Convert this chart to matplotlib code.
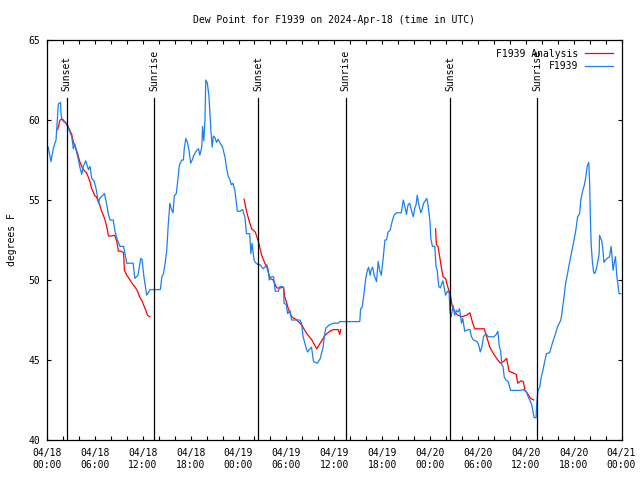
import matplotlib
matplotlib.use('Agg')
import matplotlib.pyplot as plt

# hours since 2024-04-18 00:00 UTC
obs_hours = [0.16, 0.5, 0.8, 1.13, 1.42, 1.7, 1.75, 1.85, 2.25, 2.67, 3.1, 3.3, 3.5, 3.7, 3.9,
             4.1, 4.35, 4.55, 4.85, 5.2, 5.4, 5.6, 5.9, 6.2, 6.45, 6.6, 6.8, 7.2, 7.5, 7.7,
             7.9, 8.3, 8.5, 8.75, 9.15, 9.6, 10.0, 10.8, 11.0, 11.4, 11.75, 11.9, 12.15, 12.5,
             12.9, 14.2, 14.4, 14.6, 14.8, 15.0, 15.2, 15.4, 15.6, 15.8, 15.95, 16.2, 16.35,
             16.6, 16.9, 17.1, 17.2, 17.4, 17.6, 17.8, 18.0, 18.2, 18.4, 18.75, 19.0, 19.15,
             19.4, 19.5, 19.65, 19.8, 19.9, 20.1, 20.3, 20.4, 20.55, 20.7, 20.85, 21.05, 21.25,
             21.45, 21.65, 22.0, 22.3, 22.5, 22.7, 22.9, 23.1, 23.3, 23.55, 23.85, 24.2, 24.5,
             24.8, 25.0, 25.4, 25.55, 25.7, 25.95, 26.1, 26.45, 26.7, 27.1, 27.55, 27.75, 27.85,
             28.1, 28.4, 28.6, 29.0, 29.2, 29.65, 29.7, 30.0, 30.15, 30.45, 30.65, 30.85, 31.7,
             31.9, 32.1, 32.45, 32.65, 32.95, 33.15, 33.4, 33.9, 34.25, 34.6, 34.75, 34.95, 35.4,
             35.9, 36.5, 36.7, 39.2, 39.3, 39.5, 39.7, 39.95, 40.15, 40.3, 40.5, 40.6, 40.8,
             41.0, 41.3, 41.5, 41.7, 41.9, 42.15, 42.35, 42.55, 42.75, 43.0, 43.25, 43.5, 43.8,
             44.4, 44.65, 44.9, 45.05, 45.25, 45.45, 45.65, 45.9, 46.1, 46.25, 46.4, 46.6, 46.85,
             47.0, 47.2, 47.6, 47.75, 48.0, 48.1, 48.3, 48.6, 48.75, 48.9, 49.1, 49.3, 49.6,
             49.75, 49.95, 50.2, 50.4, 50.5, 50.65, 50.9, 51.1, 51.3, 51.5, 51.7, 51.95, 52.1,
             52.35, 52.8, 53.0, 53.2, 53.45, 53.9, 54.1, 54.3, 54.5, 54.7, 55.0, 55.3, 56.0,
             56.3, 56.5, 56.7, 56.85, 57.0, 57.15, 57.3, 57.5, 57.8, 58.1, 59.3, 59.7, 60.1,
             60.3, 60.6, 60.8, 61.05, 61.3, 61.35, 61.45, 61.55, 61.75, 61.95, 62.15, 62.35,
             62.6, 63.0, 63.3, 63.7, 64.0, 64.4, 64.55, 64.8, 65.0, 65.2, 65.4, 65.6, 65.85,
             66.05, 66.3, 66.5, 66.75, 66.9, 67.15, 67.35, 67.5, 67.7, 67.9, 68.0, 68.1, 68.2,
             68.35, 68.5, 68.65, 68.9, 69.2, 69.25, 69.4, 69.5, 69.65, 69.8, 70.0, 70.2, 70.5,
             70.7, 70.8, 70.95, 71.15, 71.25, 71.4, 71.7, 71.9]
obs_dewpt = [58.3, 57.4, 58.25, 58.75, 61.0, 61.1, 60.4, 60.1, 59.9, 59.5, 58.95, 58.2, 58.5, 58.0, 57.6,
             57.1, 56.6, 57.1, 57.45, 56.9, 57.1, 56.35, 56.2, 55.6, 54.8, 55.1, 55.2, 55.4, 54.7, 54.1,
             53.75, 53.75, 53.1, 52.6, 52.1, 52.1, 51.05, 51.05, 50.1, 50.3, 51.35, 51.3, 50.2, 49.05,
             49.4, 49.4, 50.2, 50.4, 51.05, 51.8, 53.5, 54.8, 54.4, 54.2, 55.25, 55.4, 56.05,
             57.2, 57.5, 57.5, 58.2, 58.85, 58.6, 58.1, 57.3, 57.5, 57.8, 58.1, 58.2, 57.8,
             58.3, 59.6, 58.7, 60.0, 62.5, 62.3, 61.45, 60.6, 59.3, 58.3, 59.0, 58.9, 58.6,
             58.8, 58.6, 58.3, 57.7, 57.0, 56.5, 56.3, 55.95, 56.05, 55.6, 54.3, 54.3, 54.4,
             53.95, 52.9, 52.9, 51.65, 52.3, 51.25, 51.1, 50.95, 50.95, 50.7, 50.95, 50.6, 50.0,
             50.2, 50.2, 49.3, 49.3, 49.6, 49.55, 48.55, 48.45, 47.9, 48.1, 47.5, 47.5, 47.5,
             47.3, 46.45, 45.8, 45.5, 45.7, 45.8, 44.9, 44.8, 45.1, 45.8, 46.45, 47.0, 47.2,
             47.3, 47.3, 47.4, 47.4, 48.2, 48.3, 49.05, 50.1, 50.6, 50.8, 50.3, 50.6, 50.8,
             50.3, 49.9, 51.15, 50.6, 50.3, 51.45, 52.5, 52.5, 53.0, 53.1, 53.65, 54.05, 54.2,
             54.2, 55.0, 54.5, 54.1, 54.7, 54.8, 54.4, 53.95, 54.5, 54.7, 55.3, 54.7, 54.2,
             54.4, 54.8, 55.1, 54.7, 53.65, 52.6, 52.1, 52.1, 50.85, 50.6, 49.6, 49.5, 49.95,
             49.6, 49.05, 49.3, 49.2, 48.0, 47.7, 48.4, 47.8, 48.1, 48.0, 48.2, 47.3, 47.6,
             46.8, 46.9, 46.9, 46.45, 46.25, 46.15, 45.95, 45.5, 45.8, 46.45, 46.65, 46.45, 46.45,
             46.6, 46.8, 45.8, 45.6, 44.7, 44.6, 43.95, 43.75, 43.65, 43.1, 43.1, 43.15, 43.0,
             42.7, 42.4, 42.1, 41.4, 41.4, 42.1, 42.7, 43.1, 43.3, 43.95, 44.35, 44.85,
             45.4, 45.45, 46.0, 46.6, 47.1, 47.5, 48.0, 48.95, 49.8, 50.3, 50.85, 51.35, 51.95,
             52.5, 53.2, 53.95, 54.15, 55.0, 55.6, 55.95, 56.35, 57.1, 57.35, 56.15, 53.85, 52.2,
             51.15, 50.5, 50.4, 50.8, 51.65, 52.8, 52.6, 52.5, 52.0, 51.1, 51.25, 51.35, 51.45,
             52.1, 51.55, 50.6, 51.25, 51.45, 50.3, 49.15, 49.15]

# analysis runs (three separate pieces)
ana1_hours = [1.34, 1.63, 1.9, 2.1, 2.45, 2.65, 2.9, 3.1, 3.3, 3.5, 3.7, 3.9, 4.1, 4.35, 4.7,
              4.95, 5.2, 5.4, 5.6, 5.8, 6.0, 6.2, 6.35, 6.6, 6.85, 7.1, 7.3, 7.5, 7.7, 8.1,
              8.5, 8.75, 8.95, 9.3, 9.6, 9.7, 10.0, 10.4, 10.8, 11.05, 11.35, 11.6, 11.9, 12.3,
              12.6, 12.9]
ana1_dewpt = [59.4, 60.0, 60.05, 59.9, 59.8, 59.6, 59.3, 59.1, 58.65, 58.35, 58.1, 57.8, 57.4, 57.1, 56.8,
              56.7, 56.4, 56.1, 55.7, 55.5, 55.25, 55.2, 55.0, 54.7, 54.3, 54.0, 53.7, 53.3, 52.75, 52.75,
              52.8, 52.4, 51.8, 51.8, 51.7, 50.6, 50.3, 50.0, 49.7, 49.55, 49.3, 48.95, 48.7, 48.2,
              47.8, 47.7]
ana2_hours = [24.7, 25.0, 25.3, 25.65, 26.1, 26.5, 26.9, 27.3, 27.55, 27.95, 28.35, 28.8, 29.2,
              29.65, 29.8, 30.25, 30.65, 31.3, 31.9, 32.55, 33.2, 33.8, 34.3, 34.85, 35.45,
              35.9, 36.5, 36.7, 36.8]
ana2_dewpt = [55.05, 54.3, 53.75, 53.2, 53.0, 52.4, 51.55, 51.05, 50.8, 50.1, 50.0, 49.5, 49.5,
              49.55, 48.95, 48.2, 47.7, 47.5, 47.2, 46.65, 46.25, 45.7, 46.1, 46.55, 46.8,
              46.9, 46.9, 46.6, 46.9]
ana3_hours = [48.7, 48.8, 49.0, 49.25, 49.45, 49.65, 49.95, 50.15, 50.4, 50.5, 50.75, 51.1, 51.5,
              51.95, 52.6, 53.0, 53.3, 53.6, 54.25, 54.8, 55.1, 55.5, 55.95, 56.35, 56.8, 57.2,
              57.6, 57.9, 58.4, 58.8, 59.0, 59.4, 59.7, 59.9, 60.3, 60.6, 61.0]
ana3_dewpt = [53.2, 52.2, 52.1, 51.35, 50.7, 50.2, 50.1, 49.7, 49.3, 49.2, 48.45, 48.0, 47.8,
              47.7, 47.8, 47.95, 47.4, 46.95, 46.95, 46.95, 46.45, 45.8, 45.4, 45.1, 44.8, 44.9,
              45.1, 44.3, 44.2, 44.1, 43.55, 43.7, 43.65, 43.1, 42.85, 42.6, 42.5]

sun_hours = [2.45, 13.45, 26.47, 37.42, 50.5, 61.45]
sun_labels = ['Sunset', 'Sunrise', 'Sunset', 'Sunrise', 'Sunset', 'Sunrise']

tick_hours = list(range(0, 73, 6))
tick_labels = ['04/18\n00:00', '04/18\n06:00', '04/18\n12:00', '04/18\n18:00',
               '04/19\n00:00', '04/19\n06:00', '04/19\n12:00', '04/19\n18:00',
               '04/20\n00:00', '04/20\n06:00', '04/20\n12:00', '04/20\n18:00',
               '04/21\n00:00']

fs = 7
plt.rcParams['font.family'] = 'DejaVu Sans Mono'
fig = plt.figure(figsize=(6.4, 4.8), dpi=100)
ax = fig.add_axes([47 / 640, 40 / 480, 574.5 / 640, 400 / 480])

red = '#ff0000'
blue = '#1a80f0'
ax.plot(ana1_hours, ana1_dewpt, color=red, lw=0.9, label='F1939 Analysis')
ax.plot(ana2_hours, ana2_dewpt, color=red, lw=0.9)
ax.plot(ana3_hours, ana3_dewpt, color=red, lw=0.9)
ax.plot(obs_hours, obs_dewpt, color=blue, lw=0.9, label='F1939')

# sunrise / sunset markers
for h, lab in zip(sun_hours, sun_labels):
    ax.plot([h, h], [40, 61.4], color='black', lw=0.9)
    ax.text(h, 61.8, lab, rotation=90, ha='center', va='bottom', fontsize=fs)

ax.set_xlim(0, 72)
ax.set_ylim(40, 65)
ax.set_xticks(tick_hours)
ax.set_xticklabels(tick_labels, fontsize=fs)
ax.set_xticks(range(0, 73, 2), minor=True)
ax.set_yticks([40, 45, 50, 55, 60, 65])
ax.tick_params(axis='y', labelsize=fs, pad=5)
ax.tick_params(axis='x', pad=6)
ax.tick_params(which='both', direction='in', top=True, right=True, length=3, width=0.8)
for s in ax.spines.values():
    s.set_linewidth(0.9)

ax.set_ylabel('degrees F', fontsize=fs, labelpad=8)
ax.set_title('Dew Point for F1939 on 2024-Apr-18 (time in UTC)', fontsize=fs, pad=12)

ax.legend(loc='upper right', frameon=False, markerfirst=False, fontsize=fs,
          handlelength=2.9, handletextpad=0.6, borderaxespad=0.5, labelspacing=0.25)

fig.savefig('out.png', dpi=100)
